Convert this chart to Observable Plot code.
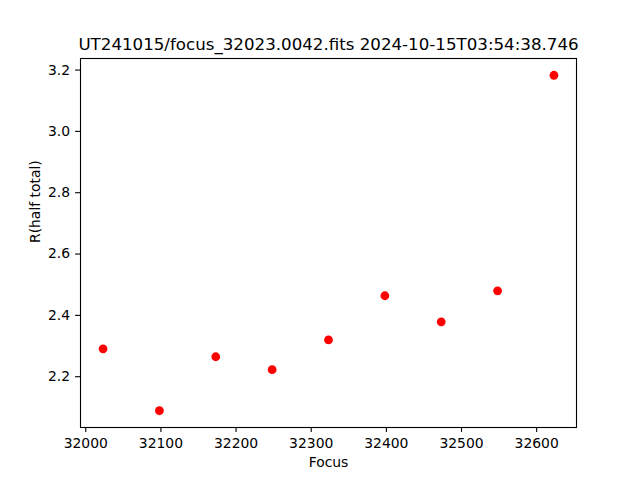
<!DOCTYPE html>
<html><head><meta charset="utf-8">
<script src="https://cdn.jsdelivr.net/npm/d3@7"></script>
<script src="https://cdn.jsdelivr.net/npm/@observablehq/plot@0.6"></script>
<style>body{margin:0;background:#fff}</style>
</head><body><div id="chart"></div>
<script>
const focusValues = [32023, 32098, 32173, 32248, 32323, 32398, 32473, 32548, 32623];
const radiusValues = [2.291, 2.089, 2.265, 2.223, 2.320, 2.464, 2.379, 2.480, 3.183];
const xTicks = [32000, 32100, 32200, 32300, 32400, 32500, 32600];
const yTicks = [2.2, 2.4, 2.6, 2.8, 3.0, 3.2];
const titleText = "UT241015/focus_32023.0042.fits 2024-10-15T03:54:38.746";
const xLabel = "Focus";
const yLabel = "R(half total)";

const data = focusValues.map((f, i) => ({focus: f, r: radiusValues[i]}));
function padded(vals) {
  const [a, b] = d3.extent(vals);
  const m = (b - a) * 0.05;
  return [a - m, b + m];
}

const chart = Plot.plot({
  width: 640, height: 480,
  marginLeft: 80, marginRight: 64, marginTop: 58, marginBottom: 53,
  style: {fontFamily: "DejaVu Sans", fontSize: "13.9px", color: "black", background: "white"},
  x: {domain: padded(focusValues)},
  y: {domain: padded(radiusValues)},
  marks: [
    Plot.frame({stroke: "black", strokeWidth: 1.1}),
    Plot.axisX({ticks: xTicks, tickSize: 4.9, tickPadding: 5.9, label: null, strokeWidth: 1.1, fontSize: 13.9, tickFormat: d3.format("d")}),
    Plot.axisY({ticks: yTicks, tickSize: 4.9, tickPadding: 5.5, label: null, strokeWidth: 1.1, fontSize: 13.9, tickFormat: d3.format(".1f")}),
    Plot.dot(data, {x: "focus", y: "r", r: 4.4, fill: "#ff0000", stroke: "none"}),
    Plot.text([titleText], {text: d => d, frameAnchor: "top", dy: -9, lineAnchor: "bottom", fontSize: 16.67}),
    Plot.text([xLabel], {text: d => d, frameAnchor: "bottom", dy: 39.7, lineAnchor: "bottom", fontSize: 13.9}),
    Plot.text([yLabel], {text: d => d, frameAnchor: "left", dx: -45, rotate: -90, fontSize: 13.9})
  ]
});
document.getElementById("chart").appendChild(chart);
</script>
</body></html>
